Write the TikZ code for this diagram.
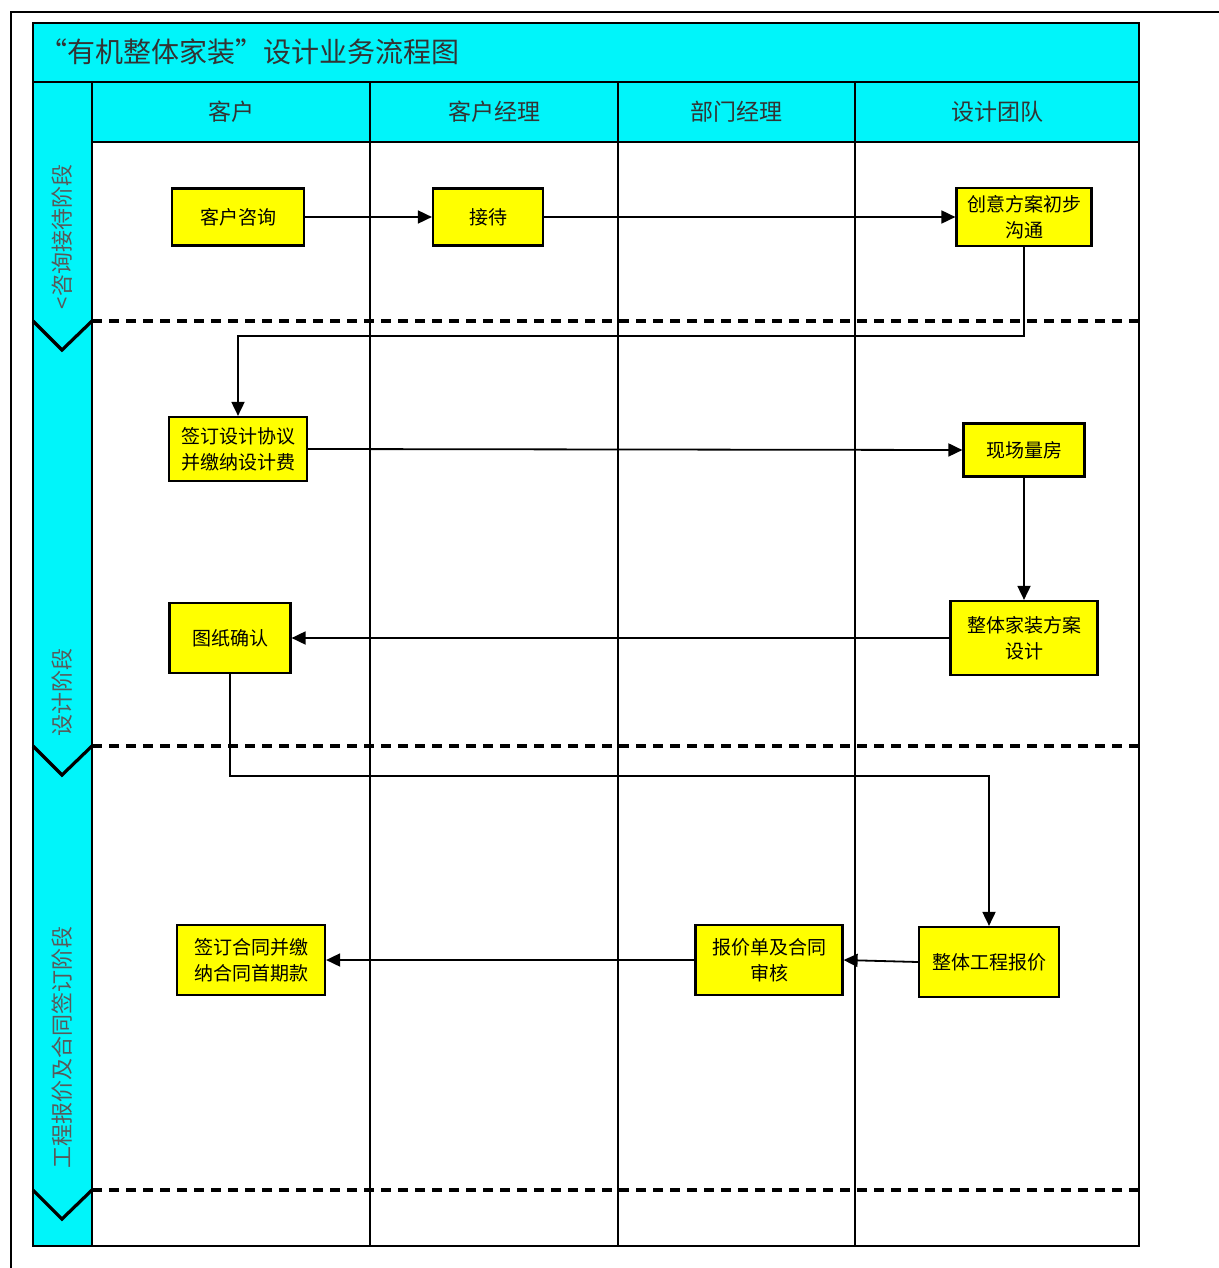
\documentclass[tikz,border=0pt]{standalone}
\usepackage{fontspec}
\newfontfamily\cjk{Noto Sans CJK SC}
\usetikzlibrary{arrows.meta,calc}
\definecolor{lanecyan}{RGB}{0,245,250}
\definecolor{boxyellow}{RGB}{255,255,0}
\tikzset{
  stepbox/.style={draw, fill=boxyellow, line width=1.1pt, inner sep=0pt, align=center,
    font=\cjk\fontsize{9.5}{13}\selectfont},
  arr/.style={line width=0.9pt, -{Triangle[length=7pt,width=6.5pt]}},
  lane/.style={line width=1.1pt},
  sep/.style={line width=1.8pt, dash pattern=on 5pt off 3.5pt},
  chev/.style={line width=1.6pt},
  hdr/.style={font=\cjk\fontsize{11.5}{13}\selectfont, text=black!80},
  phase/.style={rotate=90, font=\cjk\fontsize{11}{13}\selectfont, text=black!65},
}
\begin{document}
\begin{tikzpicture}[x=0.5pt,y=-0.5pt]
\useasboundingbox (0,0) rectangle (1219,1268);
\fill[white] (0,0) rectangle (1219,1268);
% page frame
\draw[line width=0.8pt] (11,1268) -- (11,12) -- (1219,12);
% fills
\fill[lanecyan] (33,23) rectangle (1139,82);
\fill[lanecyan] (92,82) rectangle (1139,142);
\fill[lanecyan] (33,82) rectangle (92,1246);
% title
\node[anchor=west, font=\cjk\fontsize{14}{16}\selectfont, text=black!80] (title) at (32,52) {“有机整体家装”设计业务流程图};
% headers
\node[hdr] (h1) at (231,112) {客户};
\node[hdr] (h2) at (494,112) {客户经理};
\node[hdr] (h3) at (736,112) {部门经理};
\node[hdr] (h4) at (997,112) {设计团队};
% grid lines
\draw[lane] (33,82) -- (1139,82);
\draw[lane] (92,142) -- (1139,142);
\draw[lane] (92,82) -- (92,1246);
\draw[lane] (370,82) -- (370,1246);
\draw[lane] (618,82) -- (618,1246);
\draw[lane] (855,82) -- (855,1246);
\draw[line width=1.3pt] (33,23) rectangle (1139,1246);
% phase separators
\draw[sep] (92,321) -- (1139,321);
\draw[sep] (92,746) -- (1139,746);
\draw[sep] (92,1190) -- (1139,1190);
\draw[chev] (33,321) -- (62,350) -- (92,321);
\draw[chev] (33,746) -- (62,775) -- (92,746);
\draw[chev] (33,1190) -- (62,1219) -- (92,1190);
% phase labels
\node[phase] (p1) at (62,237) {<咨询接待阶段};
\node[phase] (p2) at (62,692) {设计阶段};
\node[phase] (p3) at (62,1047) {工程报价及合同签订阶段};
% boxes
\node[stepbox, minimum width=66pt, minimum height=28.5pt] (a) at (238,217) {客户咨询};
\node[stepbox, minimum width=55pt, minimum height=28.5pt] (b) at (488,217) {接待};
\node[stepbox, minimum width=67.5pt, minimum height=29pt] (c) at (1024,217) {创意方案初步\\沟通};
\node[stepbox, minimum width=69pt, minimum height=32pt] (d) at (238,449) {签订设计协议\\并缴纳设计费};
\node[stepbox, minimum width=60.5pt, minimum height=26.5pt] (e) at (1024,450) {现场量房};
\node[stepbox, minimum width=73.5pt, minimum height=37pt] (f) at (1024,638) {整体家装方案\\设计};
\node[stepbox, minimum width=60.5pt, minimum height=35pt] (g) at (230,638) {图纸确认};
\node[stepbox, minimum width=70pt, minimum height=35pt] (h) at (989,962) {整体工程报价};
\node[stepbox, minimum width=73.5pt, minimum height=35pt] (i) at (769,960) {报价单及合同\\审核};
\node[stepbox, minimum width=74pt, minimum height=35pt] (j) at (251,960) {签订合同并缴\\纳合同首期款};
% connectors
\coordinate (k1) at (238,336);
\coordinate (k2) at (989,776);
\draw[arr] (a.east) -- (b.west);
\draw[arr] (b.east) -- (c.west);
\draw[arr] (c.south) |- (k1) -- (d.north);
\draw[arr] (d.east) -- (e.west);
\draw[arr] (e.south) -- (f.north);
\draw[arr] (f.west) -- (g.east);
\draw[arr] (g.south) |- (k2) -- (h.north);
\draw[arr] (h.west) -- (i.east);
\draw[arr] (i.west) -- (j.east);
\end{tikzpicture}
\end{document}
